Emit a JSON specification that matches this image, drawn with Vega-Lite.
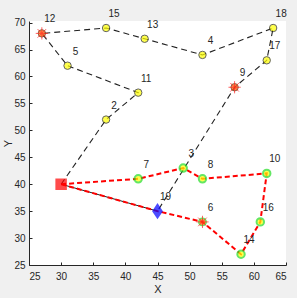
{
  "$schema": "https://vega.github.io/schema/vega-lite/v6.json",
  "width": 257,
  "height": 244,
  "autosize": {"type": "none"},
  "padding": {"left": 29, "top": 21, "right": 11, "bottom": 33},
  "background": "#f0f0f0",
  "config": {
    "view": {"fill": "white", "stroke": null},
    "axis": {"grid": false, "labelFont": "Liberation Sans", "titleFont": "Liberation Sans", "labelFontSize": 10, "titleFontSize": 11, "titleFontWeight": "normal", "labelColor": "#262626", "titleColor": "#262626", "domainColor": "#262626", "tickColor": "#262626", "tickSize": -3}
  },
  "datasets": {
    "routes": [
      {"route": "black", "order": 0, "x": 30, "y": 40},
      {"route": "black", "order": 1, "x": 37, "y": 52},
      {"route": "black", "order": 2, "x": 42, "y": 57},
      {"route": "black", "order": 3, "x": 31, "y": 62},
      {"route": "black", "order": 4, "x": 27, "y": 68},
      {"route": "black", "order": 5, "x": 37, "y": 69},
      {"route": "black", "order": 6, "x": 43, "y": 67},
      {"route": "black", "order": 7, "x": 52, "y": 64},
      {"route": "black", "order": 8, "x": 63, "y": 69},
      {"route": "black", "order": 9, "x": 62, "y": 63},
      {"route": "black", "order": 10, "x": 57, "y": 58},
      {"route": "black", "order": 11, "x": 45, "y": 35},
      {"route": "blacksolid", "order": 0, "x": 45, "y": 35},
      {"route": "blacksolid", "order": 1, "x": 30, "y": 40},
      {"route": "red", "order": 0, "x": 30, "y": 40},
      {"route": "red", "order": 1, "x": 42, "y": 41},
      {"route": "red", "order": 2, "x": 49, "y": 43},
      {"route": "red", "order": 3, "x": 52, "y": 41},
      {"route": "red", "order": 4, "x": 62, "y": 42},
      {"route": "red", "order": 5, "x": 61, "y": 33},
      {"route": "red", "order": 6, "x": 58, "y": 27},
      {"route": "red", "order": 7, "x": 52, "y": 33},
      {"route": "red", "order": 8, "x": 45, "y": 35},
      {"route": "red", "order": 9, "x": 30, "y": 40}
    ],
    "nodes": [
      {"id": "2", "x": 37, "y": 52, "type": "blk"},
      {"id": "11", "x": 42, "y": 57, "type": "blk"},
      {"id": "5", "x": 31, "y": 62, "type": "blk"},
      {"id": "12", "x": 27, "y": 68, "type": "starb"},
      {"id": "15", "x": 37, "y": 69, "type": "blk"},
      {"id": "13", "x": 43, "y": 67, "type": "blk"},
      {"id": "4", "x": 52, "y": 64, "type": "blk"},
      {"id": "18", "x": 63, "y": 69, "type": "blk"},
      {"id": "17", "x": 62, "y": 63, "type": "blk"},
      {"id": "9", "x": 57, "y": 58, "type": "starb"},
      {"id": "7", "x": 42, "y": 41, "type": "red"},
      {"id": "3", "x": 49, "y": 43, "type": "red"},
      {"id": "8", "x": 52, "y": 41, "type": "red"},
      {"id": "10", "x": 62, "y": 42, "type": "red"},
      {"id": "16", "x": 61, "y": 33, "type": "red"},
      {"id": "14", "x": 58, "y": 27, "type": "red"},
      {"id": "6", "x": 52, "y": 33, "type": "starr"},
      {"id": "19", "x": 45, "y": 35, "type": "hub"},
      {"id": "", "x": 30, "y": 40, "type": "depot"}
    ]
  },
  "encoding": {
    "x": {"field": "x", "type": "quantitative", "scale": {"domain": [25, 65], "nice": false, "zero": false}, "axis": {"values": [25, 30, 35, 40, 45, 50, 55, 60, 65], "title": "X", "labelPadding": 9, "titlePadding": 2}},
    "y": {"field": "y", "type": "quantitative", "scale": {"domain": [25, 70.3], "nice": false, "zero": false}, "axis": {"values": [25, 30, 35, 40, 45, 50, 55, 60, 65, 70], "title": "Y", "labelPadding": 7, "titlePadding": 0}}
  },
  "layer": [
    {
      "data": {"name": "routes"},
      "transform": [{"filter": "datum.route === 'black'"}],
      "mark": {"type": "line", "color": "#222222", "strokeWidth": 1.1, "strokeDash": [6, 4]},
      "encoding": {"order": {"field": "order"}}
    },
    {
      "data": {"name": "routes"},
      "transform": [{"filter": "datum.route === 'blacksolid'"}],
      "mark": {"type": "line", "color": "#222222", "strokeWidth": 1},
      "encoding": {"order": {"field": "order"}}
    },
    {
      "data": {"name": "routes"},
      "transform": [{"filter": "datum.route === 'red'"}],
      "mark": {"type": "line", "color": "#ff0000", "strokeWidth": 2, "strokeDash": [5, 3]},
      "encoding": {"order": {"field": "order"}}
    },
    {
      "data": {"name": "nodes"},
      "transform": [{"filter": "datum.type === 'blk'"}],
      "mark": {"type": "point", "shape": "circle", "filled": true, "fill": "#ffff00", "stroke": "#222222", "strokeWidth": 1, "size": 55}
    },
    {
      "data": {"name": "nodes"},
      "transform": [{"filter": "datum.type === 'red'"}],
      "mark": {"type": "point", "shape": "circle", "filled": true, "fill": "#ffff00", "stroke": "#22dd22", "strokeWidth": 2, "size": 55}
    },
    {
      "data": {"name": "nodes"},
      "transform": [{"filter": "datum.type === 'starb'"}],
      "mark": {"type": "point", "shape": "circle", "filled": true, "fill": "#ff6a00", "stroke": "#552200", "strokeWidth": 1, "size": 55}
    },
    {
      "data": {"name": "nodes"},
      "transform": [{"filter": "datum.type === 'starr'"}],
      "mark": {"type": "point", "shape": "circle", "filled": true, "fill": "#ff6a00", "stroke": "#22dd22", "strokeWidth": 1.5, "size": 55}
    },
    {
      "data": {"name": "nodes"},
      "transform": [{"filter": "datum.type === 'starb' || datum.type === 'starr'"}],
      "mark": {"type": "point", "shape": "M-1,0L1,0M0,-1L0,1M-0.7,-0.7L0.7,0.7M-0.7,0.7L0.7,-0.7", "filled": false, "stroke": "#ff2020", "strokeWidth": 1, "size": 150}
    },
    {
      "data": {"name": "nodes"},
      "transform": [{"filter": "datum.type === 'hub'"}],
      "mark": {"type": "point", "shape": "M0,-1.2L0.8,0L0,1.2L-0.8,0Z", "filled": true, "fill": "#0000ff", "stroke": "#0000ff", "size": 110}
    },
    {
      "data": {"name": "nodes"},
      "transform": [{"filter": "datum.type === 'depot'"}],
      "mark": {"type": "point", "shape": "square", "filled": true, "fill": "#ff0000", "stroke": "#ff0000", "size": 90}
    },
    {
      "data": {"name": "nodes"},
      "mark": {"type": "text", "dx": 8, "dy": -14, "fontSize": 10, "font": "Liberation Sans", "color": "#262626"},
      "encoding": {"text": {"field": "id"}}
    }
  ]
}
